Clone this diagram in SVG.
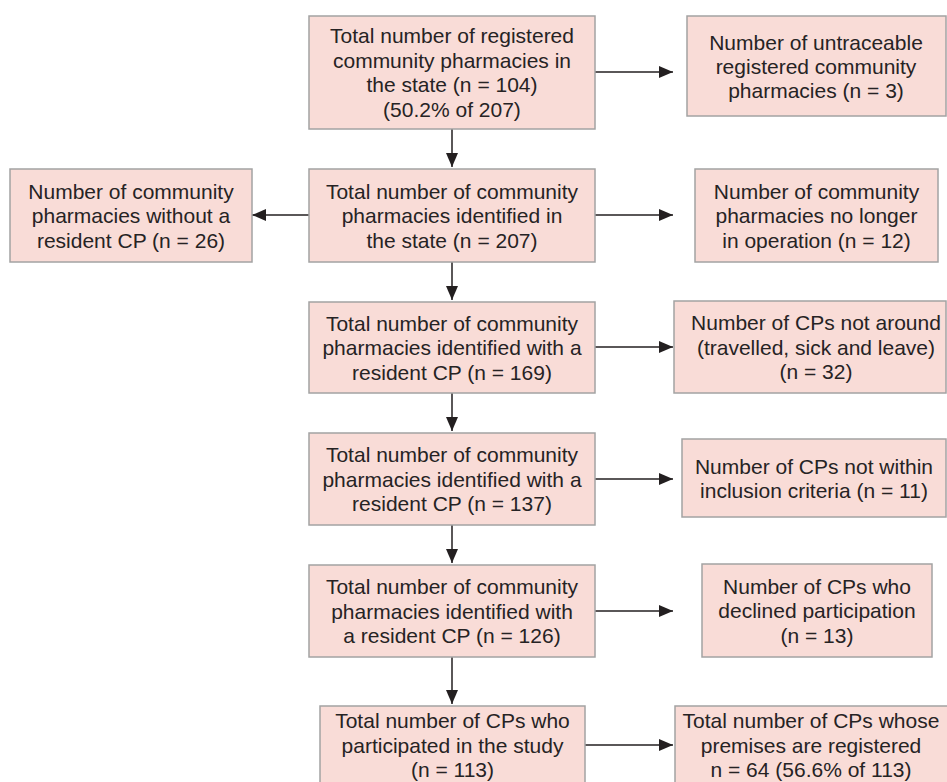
<svg xmlns="http://www.w3.org/2000/svg" width="947" height="782" viewBox="0 0 947 782">
<defs>
<style>
.box{fill:#f9dcd7;stroke:#a3a3a3;stroke-width:1.5}
text{font-family:"Liberation Sans",Arial,sans-serif;font-size:21px;fill:#262324;text-anchor:middle}
.c{stroke:#231f20;stroke-width:1.5;fill:none}
</style>
<marker id="ah" viewBox="0 0 14 12" refX="14" refY="6" markerWidth="14" markerHeight="12" markerUnits="userSpaceOnUse" orient="auto">
<path d="M0,0 L14,6 L0,12 Z" fill="#231f20"/>
</marker>
</defs>
<rect width="947" height="782" fill="#ffffff"/>
<g id="connectors">
<line class="c" x1="452" y1="129" x2="452" y2="167" marker-end="url(#ah)"/>
<line class="c" x1="452" y1="262" x2="452" y2="300" marker-end="url(#ah)"/>
<line class="c" x1="452" y1="393" x2="452" y2="431" marker-end="url(#ah)"/>
<line class="c" x1="452" y1="525" x2="452" y2="563" marker-end="url(#ah)"/>
<line class="c" x1="452" y1="657" x2="452" y2="704" marker-end="url(#ah)"/>
<line class="c" x1="595" y1="72" x2="673" y2="72" marker-end="url(#ah)"/>
<line class="c" x1="309" y1="215" x2="252" y2="215" marker-end="url(#ah)"/>
<line class="c" x1="595" y1="215" x2="673" y2="215" marker-end="url(#ah)"/>
<line class="c" x1="595" y1="347" x2="673" y2="347" marker-end="url(#ah)"/>
<line class="c" x1="595" y1="479" x2="673" y2="479" marker-end="url(#ah)"/>
<line class="c" x1="595" y1="611" x2="673" y2="611" marker-end="url(#ah)"/>
<line class="c" x1="585" y1="745" x2="673" y2="745" marker-end="url(#ah)"/>
</g>
<g id="n1">
<rect class="box" x="309" y="16" width="286" height="113"/>
<text x="452" y="43">Total number of registered</text>
<text x="452" y="67.5">community pharmacies in</text>
<text x="452" y="92">the state (n = 104)</text>
<text x="452" y="116.5">(50.2% of 207)</text>
</g>
<g id="n2">
<rect class="box" x="687" y="16" width="259" height="100"/>
<text x="816" y="50">Number of untraceable</text>
<text x="816" y="74">registered community</text>
<text x="816" y="98">pharmacies (n = 3)</text>
</g>
<g id="n3">
<rect class="box" x="309" y="169" width="286" height="93"/>
<text x="452" y="198.5">Total number of community</text>
<text x="452" y="223">pharmacies identified in</text>
<text x="452" y="247.5">the state (n = 207)</text>
</g>
<g id="n4">
<rect class="box" x="10" y="169" width="242" height="93"/>
<text x="131" y="198.5">Number of community</text>
<text x="131" y="223">pharmacies without a</text>
<text x="131" y="247.5">resident CP (n = 26)</text>
</g>
<g id="n5">
<rect class="box" x="695" y="169" width="243" height="93"/>
<text x="816.5" y="198.5">Number of community</text>
<text x="816.5" y="223">pharmacies no longer</text>
<text x="816.5" y="247.5">in operation (n = 12)</text>
</g>
<g id="n6">
<rect class="box" x="309" y="302" width="286" height="91"/>
<text x="452" y="330.5">Total number of community</text>
<text x="452" y="355">pharmacies identified with a</text>
<text x="452" y="379.5">resident CP (n = 169)</text>
</g>
<g id="n7">
<rect class="box" x="674" y="301" width="272" height="92"/>
<text x="816" y="330">Number of CPs not around</text>
<text x="816" y="354.5">(travelled, sick and leave)</text>
<text x="816" y="379">(n = 32)</text>
</g>
<g id="n8">
<rect class="box" x="309" y="433" width="286" height="92"/>
<text x="452" y="462">Total number of community</text>
<text x="452" y="486.5">pharmacies identified with a</text>
<text x="452" y="511">resident CP (n = 137)</text>
</g>
<g id="n9">
<rect class="box" x="682" y="439" width="264" height="78"/>
<text x="814" y="473.5">Number of CPs not within</text>
<text x="814" y="498">inclusion criteria (n = 11)</text>
</g>
<g id="n10">
<rect class="box" x="309" y="565" width="286" height="92"/>
<text x="452" y="594">Total number of community</text>
<text x="452" y="618.5">pharmacies identified with</text>
<text x="452" y="643">a resident CP (n = 126)</text>
</g>
<g id="n11">
<rect class="box" x="702" y="564" width="230" height="93"/>
<text x="817" y="593.5">Number of CPs who</text>
<text x="817" y="618">declined participation</text>
<text x="817" y="642.5">(n = 13)</text>
</g>
<g id="n12">
<rect class="box" x="320" y="706" width="265" height="80"/>
<text x="452.5" y="728">Total number of CPs who</text>
<text x="452.5" y="752.5">participated in the study</text>
<text x="452.5" y="777">(n = 113)</text>
</g>
<g id="n13">
<rect class="box" x="675" y="706" width="275" height="80"/>
<text x="811" y="728">Total number of CPs whose</text>
<text x="811" y="752.5">premises are registered</text>
<text x="811" y="777">n = 64 (56.6% of 113)</text>
</g>
</svg>
